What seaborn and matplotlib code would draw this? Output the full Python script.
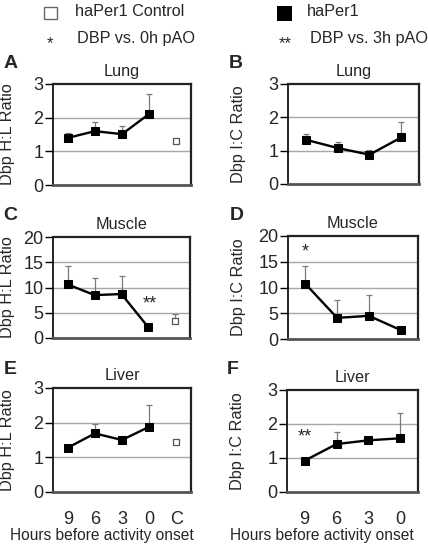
import numpy as np
import pandas as pd
import matplotlib
matplotlib.use("Agg")
import matplotlib.pyplot as plt
import seaborn as sns
from matplotlib.patches import Rectangle

# ---------------- data ----------------
hours_hl = ["9", "6", "3", "0", "C"]
hours_ic = ["9", "6", "3", "0"]

lung_hl = [1.40, 1.60, 1.51, 2.11]
lung_hl_err = [0.15, 0.26, 0.25, 0.58]
lung_hl_ctrl = 1.31
lung_hl_ctrl_err = 0.07

lung_ic = [1.33, 1.08, 0.88, 1.40]
lung_ic_err = [0.17, 0.18, 0.14, 0.47]

muscle_hl = [10.6, 8.5, 8.7, 2.1]
muscle_hl_err = [3.7, 3.3, 3.6, 0.3]
muscle_hl_ctrl = 3.4
muscle_hl_ctrl_err = 1.3

muscle_ic = [10.7, 4.1, 4.5, 1.75]
muscle_ic_err = [3.5, 3.5, 4.1, 0.3]

liver_hl = [1.28, 1.69, 1.50, 1.88]
liver_hl_err = [0.07, 0.27, 0.08, 0.63]
liver_hl_ctrl = 1.43
liver_hl_ctrl_err = 0.07

liver_ic = [0.92, 1.41, 1.52, 1.58]
liver_ic_err = [0.05, 0.36, 0.10, 0.73]

legend_labels = ["haPer1 Control", "haPer1", "DBP vs. 0h pAO", "DBP vs. 3h pAO"]

# ---------------- style ----------------
sns.set_theme(style="white")
plt.rcParams["font.family"] = ["Liberation Sans", "DejaVu Sans"]

W, H = 428, 545
fig = plt.figure(figsize=(W / 100, H / 100), dpi=100)


def px_axes(x0, y0, x1, y1):
    return fig.add_axes([x0 / W, 1 - y1 / H, (x1 - x0) / W, (y1 - y0) / H])


def panel(ax, cats, vals, errs, ymax, yticks, grid, title, ylabel, show_x,
          ctrl=None, ctrl_err=None, lab_x=-0.33, xlab_x=0.5, xlab_y=-0.34):
    n = len(vals)
    df = pd.DataFrame({"pos": np.arange(n), "val": vals, "err": errs})
    ax.errorbar(df["pos"], df["val"], yerr=[np.zeros(n), df["err"]], fmt="none",
                ecolor="#7a7a7a", elinewidth=0.9, capsize=2.3, capthick=0.9, zorder=2)
    sns.lineplot(data=df, x="pos", y="val", ax=ax, color="black", lw=1.7,
                 marker="s", markersize=6.3, markeredgecolor="black",
                 markerfacecolor="black", zorder=3)
    if ctrl is not None:
        cdf = pd.DataFrame({"pos": [n], "val": [ctrl], "err": [ctrl_err]})
        ax.errorbar(cdf["pos"], cdf["val"], yerr=[[0], cdf["err"]], fmt="none",
                    ecolor="#7a7a7a", elinewidth=0.9, capsize=2.3, capthick=0.9, zorder=2)
        sns.scatterplot(data=cdf, x="pos", y="val", ax=ax, marker="s", s=24,
                        color="white", edgecolor="#555555", linewidth=0.9, zorder=4)
    ax.set_xlim(-0.55, len(cats) - 0.45)
    ax.set_ylim(0, ymax)
    ax.set_yticks(yticks)
    ax.set_yticklabels([str(t) for t in yticks], fontsize=13)
    for g in grid:
        ax.axhline(g, color="#a8a8a8", lw=1.0, zorder=1)
    ax.set_xticks(range(len(cats)))
    if show_x:
        ax.set_xticklabels(cats, fontsize=13)
        ax.set_xlabel("Hours before activity onset", fontsize=11.2)
        ax.xaxis.set_label_coords(xlab_x, xlab_y)
    else:
        ax.set_xticklabels([])
        ax.set_xlabel("")
    ax.tick_params(axis="x", length=0, pad=14)
    ax.tick_params(axis="y", length=6, width=1, color="black", pad=1, left=True)
    ax.set_ylabel(ylabel, fontsize=11.7, va="center")
    ax.yaxis.set_label_coords(lab_x, 0.5)
    ax.set_title(title, fontsize=11.7, pad=5.5)
    for s in ["top", "right"]:
        ax.spines[s].set_color("#222222")
        ax.spines[s].set_linewidth(1.6)
    ax.spines["left"].set_color("black")
    ax.spines["left"].set_linewidth(1.2)
    ax.spines["bottom"].set_color("#555555")
    ax.spines["bottom"].set_linewidth(2.0)
    ax.set_facecolor("white")


axA = px_axes(53, 84, 191, 185)
axB = px_axes(288, 84, 419, 184)
axC = px_axes(53, 237, 190, 338)
axD = px_axes(288, 236, 418, 339)
axE = px_axes(53, 388, 191, 492)
axF = px_axes(287, 390, 418, 492)

panel(axA, hours_hl, lung_hl, lung_hl_err, 3, [0, 1, 2, 3], [1, 2], "Lung",
      "Dbp H:L Ratio", False, lung_hl_ctrl, lung_hl_ctrl_err, lab_x=-0.33)
panel(axB, hours_ic, lung_ic, lung_ic_err, 3, [0, 1, 2, 3], [1, 2], "Lung",
      "Dbp I:C Ratio", False, lab_x=-0.38)
panel(axC, hours_hl, muscle_hl, muscle_hl_err, 20, [0, 5, 10, 15, 20], [5, 10, 15],
      "Muscle", "Dbp H:L Ratio", False, muscle_hl_ctrl, muscle_hl_ctrl_err, lab_x=-0.33)
panel(axD, hours_ic, muscle_ic, muscle_ic_err, 20, [0, 5, 10, 15, 20], [5, 10, 15],
      "Muscle", "Dbp I:C Ratio", False, lab_x=-0.38)
panel(axE, hours_hl, liver_hl, liver_hl_err, 3, [0, 1, 2, 3], [1, 2], "Liver",
      "Dbp H:L Ratio", True, liver_hl_ctrl, liver_hl_ctrl_err, lab_x=-0.33,
      xlab_x=0.351, xlab_y=-0.345)
panel(axF, hours_ic, liver_ic, liver_ic_err, 3, [0, 1, 2, 3], [1, 2], "Liver",
      "Dbp I:C Ratio", True, lab_x=-0.38, xlab_x=0.267, xlab_y=-0.353)

# significance marks
axC.text(3.05, 6.8, "**", fontsize=13, ha="center", va="center")
axD.text(0, 16.8, "*", fontsize=13, ha="center", va="center")
axF.text(0, 1.62, "**", fontsize=13, ha="center", va="center")

# overlay for legend and panel letters
ov = fig.add_axes([0, 0, 1, 1], zorder=10)
ov.set_xlim(0, W)
ov.set_ylim(H, 0)
ov.axis("off")
ov.patch.set_visible(False)

ov.add_patch(Rectangle((44, 7), 13, 12, facecolor="white", edgecolor="#666666", lw=1))
ov.text(75, 11, legend_labels[0], fontsize=11.7, va="center", ha="left")
ov.add_patch(Rectangle((277, 6), 15, 15, facecolor="black", edgecolor="black", lw=0))
ov.text(307, 11, legend_labels[1], fontsize=11.7, va="center", ha="left")
ov.text(50, 44, "*", fontsize=12, va="center", ha="center")
ov.text(77, 38, legend_labels[2], fontsize=11.7, va="center", ha="left")
ov.text(285, 44, "**", fontsize=12, va="center", ha="center")
ov.text(310, 38, legend_labels[3], fontsize=11.7, va="center", ha="left")

for letter, x, y in [("A", 11, 64), ("B", 236, 64), ("C", 10, 216),
                     ("D", 237, 216), ("E", 10, 369), ("F", 233, 370)]:
    ov.text(x, y, letter, fontsize=14, fontweight="bold", ha="center", va="center")

fig.savefig("out.png", dpi=100)
